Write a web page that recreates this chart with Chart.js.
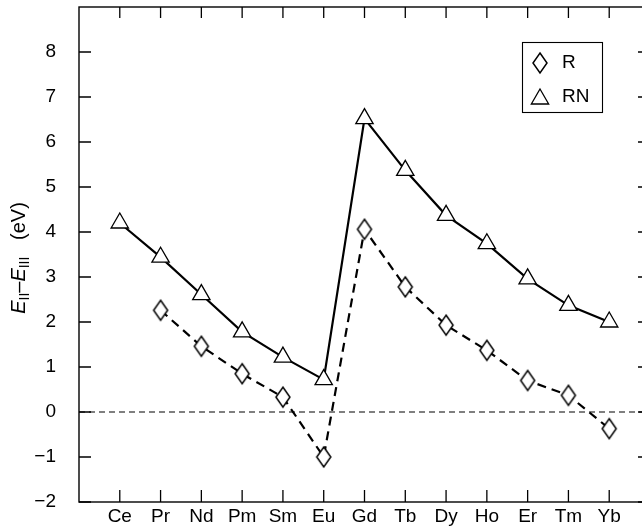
<!DOCTYPE html>
<html><head><meta charset="utf-8">
<script src="https://cdn.jsdelivr.net/npm/chart.js@4/dist/chart.umd.min.js"></script>
<style>html,body{margin:0;padding:0;background:#fff;overflow:hidden;width:642px;height:528px}
#wrap{width:642px;height:528px;overflow:hidden}
canvas{display:block}</style>
</head><body><div id="wrap"><canvas id="c" width="652" height="528"></canvas></div>
<script>
const categories = ['Ce','Pr','Nd','Pm','Sm','Eu','Gd','Tb','Dy','Ho','Er','Tm','Yb'];
const rnValues = [4.2,3.44,2.61,1.78,1.22,0.72,6.52,5.37,4.37,3.74,2.96,2.37,2.0];
const rValues = [null,2.26,1.46,0.85,0.33,-1.0,4.06,2.78,1.93,1.37,0.70,0.37,-0.37];
const yTickValues = [-2,-1,0,1,2,3,4,5,6,7,8];
const seriesLabels = ['R','RN'];

const FONT = 'Liberation Sans, Arial, sans-serif';
const FS = 19;

function diamondCanvas(w,h,lw){
  const c=document.createElement('canvas'); c.width=w+6; c.height=h+6;
  const g=c.getContext('2d'); const cx=c.width/2, cy=c.height/2;
  g.beginPath(); g.moveTo(cx,cy-h/2); g.lineTo(cx+w/2,cy); g.lineTo(cx,cy+h/2); g.lineTo(cx-w/2,cy); g.closePath();
  g.fillStyle='#fff'; g.fill(); g.lineWidth=lw; g.strokeStyle='#000'; g.stroke(); return c;
}
const diamond = diamondCanvas(14,20,1.5);

function drawTriangle(ctx,x,y,r){
  ctx.beginPath();
  ctx.moveTo(x, y-r);
  ctx.lineTo(x + r*Math.sin(2*Math.PI/3), y - r*Math.cos(2*Math.PI/3));
  ctx.lineTo(x + r*Math.sin(4*Math.PI/3), y - r*Math.cos(4*Math.PI/3));
  ctx.closePath();
  ctx.fillStyle='#fff'; ctx.fill(); ctx.lineWidth=1.3; ctx.strokeStyle='#000'; ctx.stroke();
}

const framePlugin = {
  id:'frame',
  beforeDatasetsDraw(chart){
    const {ctx, chartArea:a, scales:{y}} = chart;
    const py = y.getPixelForValue(0);
    ctx.save(); ctx.setLineDash([6,4]); ctx.lineWidth=1.1; ctx.strokeStyle='#000';
    ctx.beginPath(); ctx.moveTo(a.left,py); ctx.lineTo(a.right,py); ctx.stroke(); ctx.restore();
  },
  afterDraw(chart){
    const {ctx, chartArea:a, scales:{x,y}} = chart;
    ctx.save();
    ctx.strokeStyle='#000'; ctx.lineWidth=1.4;
    ctx.strokeRect(a.left,a.top,a.right-a.left,a.bottom-a.top);
    ctx.lineWidth=1.3;
    ctx.beginPath();
    yTickValues.forEach(v=>{const p=y.getPixelForValue(v); ctx.moveTo(a.left,p); ctx.lineTo(a.left+12,p); ctx.moveTo(a.right,p); ctx.lineTo(a.right-12,p);});
    categories.forEach((c,i)=>{const p=x.getPixelForValue(i); ctx.moveTo(p,a.bottom); ctx.lineTo(p,a.bottom-12); ctx.moveTo(p,a.top); ctx.lineTo(p,a.top+11);});
    ctx.stroke();
    // legend
    const lx=522, ly=42, lw=80, lh=70;
    ctx.lineWidth=1.1; ctx.strokeRect(lx+0.5,ly+0.5,lw,lh);
    ctx.drawImage(diamond, 540-diamond.width/2, 63-diamond.height/2);
    drawTriangle(ctx,540,99,10);
    ctx.fillStyle='#000'; ctx.font=FS+'px '+FONT; ctx.textBaseline='middle'; ctx.textAlign='left';
    ctx.fillText(seriesLabels[0],562,63);
    ctx.fillText(seriesLabels[1],562,97);
    // y title
    ctx.translate(25,258); ctx.rotate(-Math.PI/2);
    const TF=20;
    const parts=[{t:'E',f:'italic '+TF+'px '+FONT,dy:0},{t:'II',f:'14px '+FONT,dy:4},{t:'\u2013',f:TF+'px '+FONT,dy:0},{t:'E',f:'italic '+TF+'px '+FONT,dy:0},{t:'III',f:'14px '+FONT,dy:4},{t:'   (eV)',f:TF+'px '+FONT,dy:0}];
    let tot=0; parts.forEach(p=>{ctx.font=p.f; p.w=ctx.measureText(p.t).width; tot+=p.w;});
    let cx=-tot/2; ctx.textBaseline='alphabetic';
    parts.forEach(p=>{ctx.font=p.f; ctx.fillText(p.t,cx,p.dy); cx+=p.w;});
    ctx.restore();
  }
};

new Chart(document.getElementById('c'),{
  type:'line',
  data:{datasets:[
    {label:seriesLabels[1], data:categories.map((c,i)=>({x:i,y:rnValues[i]})),
     borderColor:'#000', borderWidth:2.2, pointStyle:'triangle', pointRadius:10, pointHoverRadius:10,
     pointBackgroundColor:'#fff', pointBorderColor:'#000', pointBorderWidth:1.3, tension:0},
    {label:seriesLabels[0], data:categories.map((c,i)=>({x:i,y:rValues[i]})),
     borderColor:'#000', borderWidth:2.2, borderDash:[9,6], pointStyle:diamond, pointRadius:9,
     pointBackgroundColor:'#fff', pointBorderColor:'#000', tension:0, spanGaps:false}
  ]},
  options:{
    responsive:false, animation:false, devicePixelRatio:1,
    layout:{autoPadding:false, padding:{top:7,right:2,left:0,bottom:0}},
    plugins:{legend:{display:false},tooltip:{enabled:false}},
    scales:{
      x:{type:'linear',min:-1,max:13,
        grid:{display:false}, border:{display:false},
        afterBuildTicks:s=>{s.ticks=categories.map((c,i)=>({value:i}));},
        afterFit:s=>{s.height=26; s.paddingLeft=0; s.paddingRight=0;},
        ticks:{callback:v=>categories[v],font:{family:FONT,size:FS},color:'#000',padding:-5,maxRotation:0,autoSkip:false}},
      y:{min:-2,max:9,
        grid:{display:false}, border:{display:false},
        afterBuildTicks:s=>{s.ticks=yTickValues.map(v=>({value:v}));},
        afterFit:s=>{s.width=79; s.paddingTop=0; s.paddingBottom=0;},
        ticks:{callback:v=>(v<0?'\u2212'+Math.abs(v):String(v)),font:{family:FONT,size:FS},color:'#000',padding:15}}
    }
  },
  plugins:[framePlugin]
});
</script></body></html>
